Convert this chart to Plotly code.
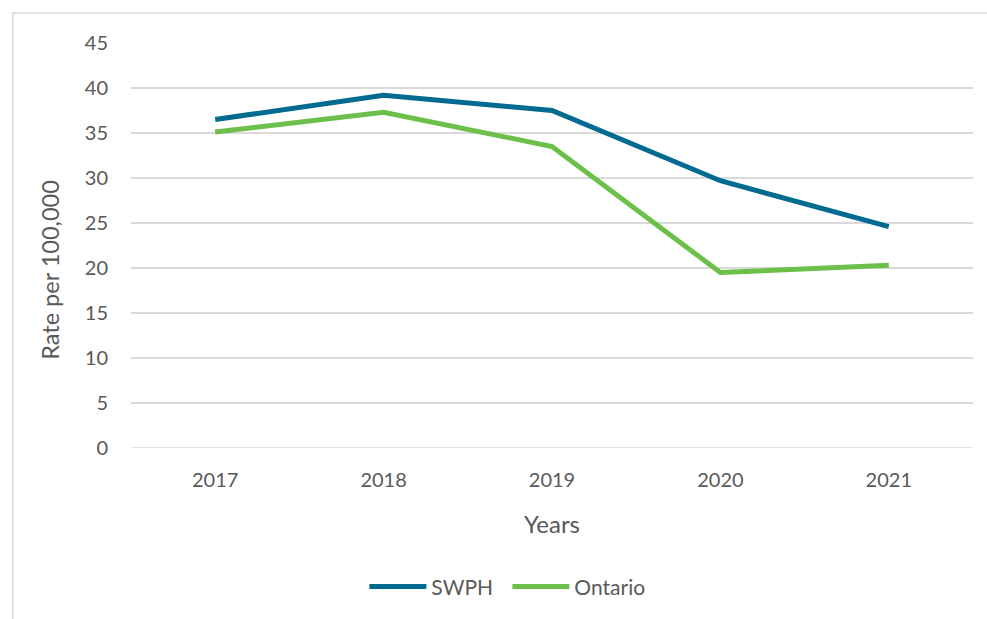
import plotly.graph_objects as go

years = ["2017", "2018", "2019", "2020", "2021"]
swph = [36.5, 39.2, 37.5, 29.7, 24.6]
ontario = [35.1, 37.3, 33.5, 19.5, 20.3]
y_ticks = [0, 5, 10, 15, 20, 25, 30, 35, 40, 45]

font_family = "Lato, 'Open Sans', sans-serif"
txt = "#595959"
grid = "#D9D9D9"

fig = go.Figure()
fig.add_trace(go.Scatter(x=years, y=swph, name="SWPH", mode="lines",
                         line=dict(color="#006A91", width=5)))
fig.add_trace(go.Scatter(x=years, y=ontario, name="Ontario", mode="lines",
                         line=dict(color="#6CC04A", width=5)))

fig.update_layout(
    width=987, height=619,
    margin=dict(l=131, r=14, t=43, b=165),
    paper_bgcolor="white", plot_bgcolor="white",
    font=dict(family=font_family, color=txt, size=20),
    showlegend=True,
    legend=dict(orientation="h", x=0.447, xanchor="center", y=-0.343, yanchor="middle",
                font=dict(size=21, color=txt), itemwidth=57, traceorder="normal",
                entrywidth=71, entrywidthmode="pixels"),
    xaxis=dict(type="category", range=[-0.5, 4.5], showgrid=False, zeroline=False,
               showline=False, ticks="outside", ticklen=14, tickcolor="rgba(0,0,0,0)",
               tickfont=dict(size=20, color=txt),
               title=dict(text="Years", font=dict(size=24, color=txt), standoff=26)),
    yaxis=dict(range=[0, 45], tickvals=y_ticks, showgrid=True, gridcolor=grid,
               gridwidth=1.5, zeroline=False, showline=False,
               ticks="outside", ticklen=18, tickcolor="rgba(0,0,0,0)",
               tickfont=dict(size=20, color=txt)),
)

# y-axis title (Excel-style placement, slightly below plot centre)
fig.add_annotation(text="Rate per 100,000", textangle=-90, showarrow=False,
                   xref="paper", yref="paper", x=-0.0962, y=0.44,
                   xanchor="center", yanchor="middle",
                   font=dict(size=23.5, color=txt, family=font_family))

# baseline gridline at 0
fig.add_shape(type="line", xref="paper", yref="y", x0=0, x1=1, y0=0, y1=0,
              line=dict(color=grid, width=1.5), layer="below")

# chart-area border
fig.add_shape(type="rect", xref="paper", yref="paper",
              x0=-0.1405, x1=1.03, y0=-0.45, y1=1.074,
              line=dict(color=grid, width=1.5), fillcolor="rgba(0,0,0,0)", layer="below")

fig.write_html("out.html", config={"displayModeBar": False},
               post_script="document.body.style.margin='0';")
